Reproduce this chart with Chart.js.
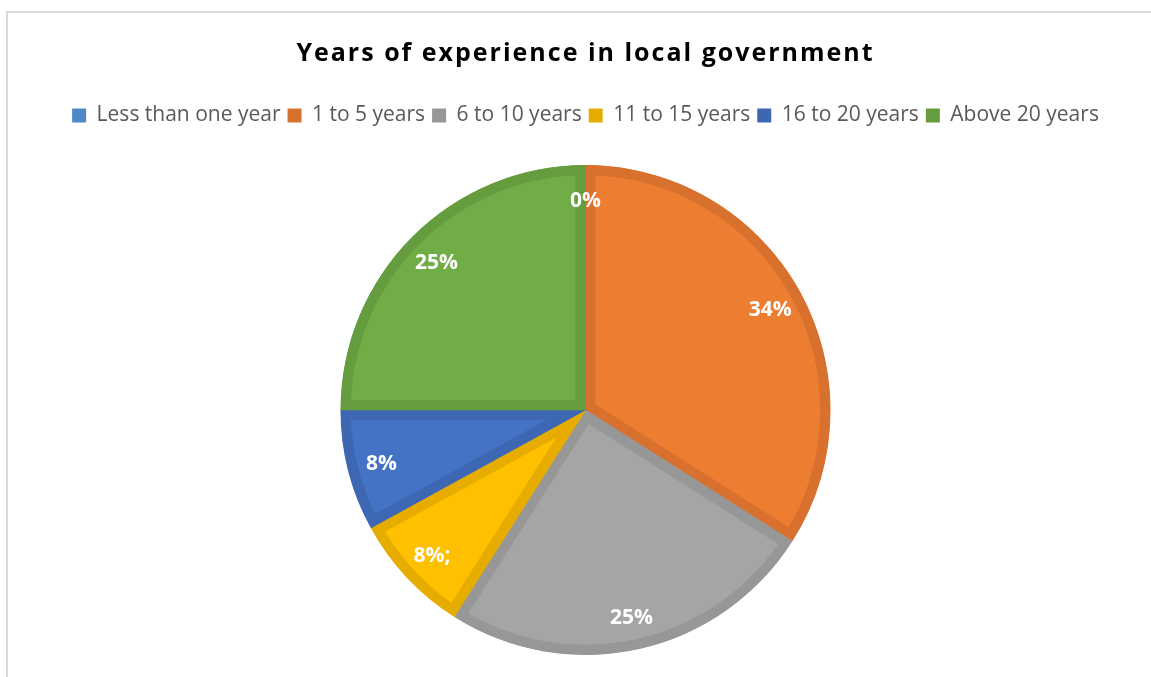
<!DOCTYPE html>
<html>
<head>
<meta charset="utf-8">
<script src="https://cdn.jsdelivr.net/npm/chart.js@4/dist/chart.umd.min.js"></script>
<style>
  html, body { margin: 0; padding: 0; background: #fff; overflow: hidden; }
  #wrap { position: relative; width: 1151px; height: 677px; }
  #frame { position: absolute; left: 6px; top: 11px; width: 1200px; height: 700px;
           border-left: 2px solid #d9d9d9; border-top: 2px solid #d9d9d9; box-sizing: border-box; }
  canvas { position: absolute; left: 0; top: 0; }
</style>
</head>
<body>
<div id="wrap">
  <div id="frame"></div>
  <canvas id="c" width="1151" height="677"></canvas>
</div>
<script>
const categories = ['Less than one year', '1 to 5 years', '6 to 10 years', '11 to 15 years', '16 to 20 years', 'Above 20 years'];
const shares = [0, 34, 25, 8, 8, 25];
const labelSuffix = ['', '', '', ';', '', ''];
const fillColors = ['#5B9BD5', '#ED7D31', '#A5A5A5', '#FFC000', '#4472C4', '#70AD47'];
const edgeColors = ['#4F88C6', '#D8712D', '#979797', '#E6AD00', '#3E67B3', '#659C3E'];

// Places the pie inside a fixed band below the legend.
const pieBand = {
  id: 'pieBand',
  afterLayout(chart) {
    const a = chart.chartArea;
    a.top = 165; a.bottom = 655; a.height = a.bottom - a.top;
  }
};

// White percentage labels inside each slice, near the rim.
const sliceLabels = {
  id: 'sliceLabels',
  afterDatasetsDraw(chart) {
    const ctx = chart.ctx;
    const meta = chart.getDatasetMeta(0);
    ctx.save();
    ctx.fillStyle = '#ffffff';
    ctx.font = 'bold 21px "Open Sans"';
    ctx.textAlign = 'center';
    ctx.textBaseline = 'middle';
    meta.data.forEach((arc, i) => {
      const p = arc.getProps(['x', 'y', 'startAngle', 'endAngle', 'outerRadius'], true);
      const mid = (p.startAngle + p.endAngle) / 2;
      const r = p.outerRadius * 0.86;
      const x = p.x + Math.cos(mid) * r;
      const y = p.y + Math.sin(mid) * r + 2;
      ctx.fillText(shares[i] + '%' + labelSuffix[i], x, y);
    });
    ctx.restore();
  }
};

const chart = new Chart(document.getElementById('c'), {
  type: 'pie',
  data: {
    labels: categories,
    datasets: [{
      data: shares,
      backgroundColor: fillColors,
      borderColor: edgeColors,
      borderWidth: 10,
      borderAlign: 'inner',
      radius: 245
    }]
  },
  options: {
    responsive: false,
    animation: false,
    layout: { padding: { left: 20, right: 0, top: 0, bottom: 22 } },
    plugins: {
      title: {
        display: true,
        text: 'Years of experience in local government',
        color: '#000000',
        font: { family: '"Open Sans"', size: 25, weight: 'bold', lineHeight: 1.2 },
        padding: { top: 39, bottom: 29 }
      },
      legend: {
        position: 'top',
        labels: {
          color: '#595959',
          font: { family: '"Open Sans"', size: 21 },
          boxWidth: 14,
          boxHeight: 14,
          padding: 7,
          generateLabels() {
            return categories.map((name, i) => ({
              text: name,
              fillStyle: edgeColors[i],
              strokeStyle: edgeColors[i],
              lineWidth: 0,
              hidden: false,
              index: i,
              fontColor: '#595959'
            }));
          }
        }
      },
      tooltip: { enabled: false }
    }
  },
  plugins: [pieBand, sliceLabels]
});

// The title is set with a little tracking between letters.
const titleBox = chart.titleBlock;
const drawTitle = titleBox.draw.bind(titleBox);
titleBox.draw = function () {
  const ctx = this.ctx;
  ctx.save();
  ctx.letterSpacing = '2px';
  drawTitle();
  ctx.restore();
};
chart.draw();
</script>
</body>
</html>
